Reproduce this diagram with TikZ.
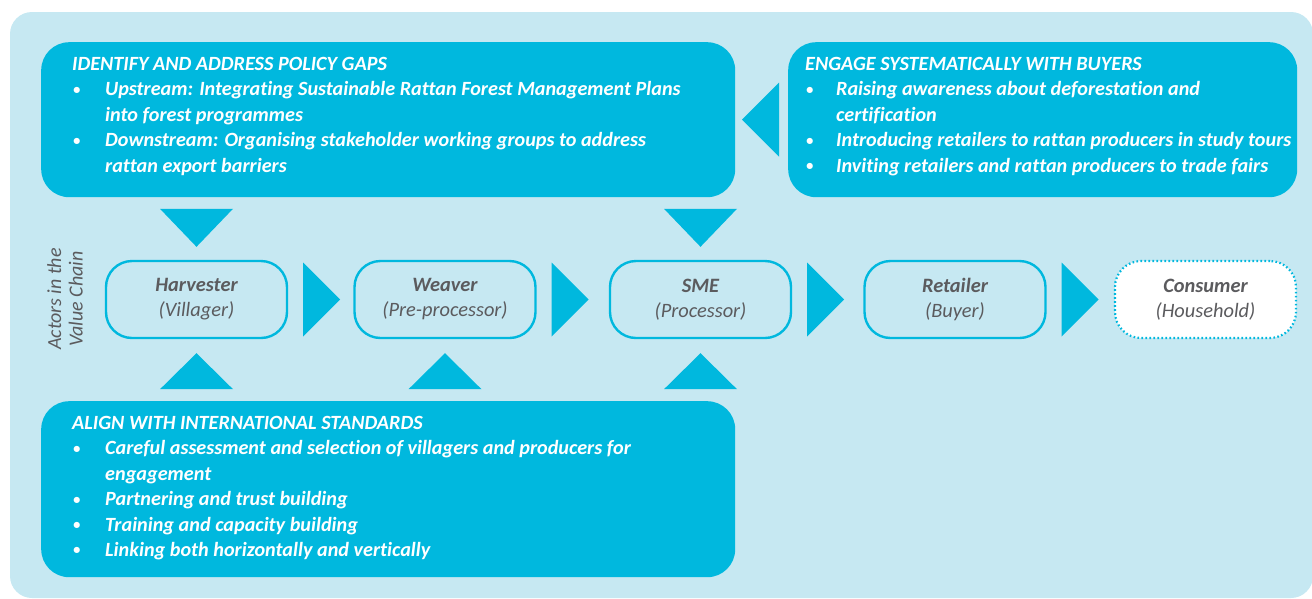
\documentclass[tikz,border=0pt]{standalone}
\usepackage{fontspec}
\setmainfont{Carlito}[Ligatures={NoCommon}]
\usetikzlibrary{calc}
\definecolor{cyanD}{HTML}{00B8DE}
\definecolor{bgL}{HTML}{C6E8F2}
\definecolor{txtG}{HTML}{5B5B5E}
\newcommand\bul[1]{\makebox[#1][l]{\hspace{1pt}\raisebox{1.5pt}{\scalebox{0.72}{\textbullet}}}}
\begin{document}
\begin{tikzpicture}[x=1pt,y=-1pt,
  bigbox/.style={fill=cyanD, rounded corners=28pt},
  boxtext/.style={anchor=north west, inner sep=0pt, align=left, text=white,
     font=\fontsize{20.2}{25.4}\selectfont\bfseries\itshape},
  actor/.style={draw=cyanD, line width=2.4pt, rounded corners=26pt, fill=bgL,
     minimum width=181pt, minimum height=77pt, align=center, text=txtG,
     font=\fontsize{20.4}{25}\selectfont\itshape},
  consumer/.style={actor, fill=white, dash pattern=on 1.6pt off 2.4pt, line width=2.2pt},
  rtri/.pic={\fill[cyanD] (0,-37) -- (37,0) -- (0,37) -- cycle;},
  dtri/.pic={\fill[cyanD] (-36.5,-38) -- (36.5,-38) -- (0,0) -- cycle;},
  utri/.pic={\fill[cyanD] (0,0) -- (36.5,36) -- (-36.5,36) -- cycle;}
]
\useasboundingbox (0,0) rectangle (1312,598);
\clip (0,0) rectangle (1312,598);
\fill[bgL, rounded corners=22pt] (10,12) rectangle (1313,598);

% big boxes
\node[bigbox, anchor=north west, minimum width=694pt, minimum height=155pt] (policy) at (41,42) {};
\node[bigbox, anchor=north west, minimum width=509pt, minimum height=155pt] (buyers) at (788,42) {};
\node[bigbox, anchor=north west, minimum width=694pt, minimum height=176pt] (standards) at (41,401) {};

\node[boxtext] (policyT) at (72,57) {IDENTIFY AND ADDRESS POLICY GAPS\\
\bul{33pt}Upstream: Integrating Sustainable Rattan Forest Management Plans\\
\hspace*{33pt}into forest programmes\\
\bul{33pt}Downstream: Organising stakeholder working groups to address\\
\hspace*{33pt}rattan export barriers};

\node[boxtext] (buyersT) at (805,57) {ENGAGE SYSTEMATICALLY WITH BUYERS\\
\bul{31pt}Raising awareness about deforestation and\\
\hspace*{31pt}certification\\
\bul{31pt}Introducing retailers to rattan producers in study tours\\
\bul{31pt}Inviting retailers and rattan producers to trade fairs};

\node[boxtext] (standardsT) at (72,416) {ALIGN WITH INTERNATIONAL STANDARDS\\
\bul{33pt}Careful assessment and selection of villagers and producers for\\
\hspace*{33pt}engagement\\
\bul{33pt}Partnering and trust building\\
\bul{33pt}Training and capacity building\\
\bul{33pt}Linking both horizontally and vertically};

% side label
\node[rotate=90, align=center, text=txtG, font=\fontsize{20}{21.5}\selectfont\itshape] (side) at (65,299) {Actors in the\\Value Chain};

% actors
\node[actor] (harv) at (196.5,299.5) {\textbf{Harvester}\\(Villager)};
\node[actor] (weav) at (445,299.5) {\textbf{Weaver}\\(Pre-processor)};
\node[actor] (sme) at (700.5,299.5) {\textbf{SME}\\(Processor)};
\node[actor] (ret) at (955,299.5) {\textbf{Retailer}\\(Buyer)};
\node[consumer] (cons) at (1205.5,299.5) {\textbf{Consumer}\\(Household)};

% flow triangles
\pic at ($(harv.east)+(15,0)$) {rtri};
\pic at ($(weav.east)+(15,0)$) {rtri};
\pic at ($(sme.east)+(15,0)$) {rtri};
\pic at ($(ret.east)+(15,0)$) {rtri};

\pic at ($(harv.north)+(0,-13)$) {dtri};
\pic at ($(sme.north)+(0,-13)$) {dtri};

\pic at ($(harv.south)+(0,14)$) {utri};
\pic at ($(weav.south)+(0,14)$) {utri};
\pic at ($(sme.south)+(0,14)$) {utri};

% left-pointing triangle between top boxes
\fill[cyanD] ($(buyers.west)+(-9,-37)$) -- ($(buyers.west)+(-46,0)$) -- ($(buyers.west)+(-9,37)$) -- cycle;
\end{tikzpicture}
\end{document}
